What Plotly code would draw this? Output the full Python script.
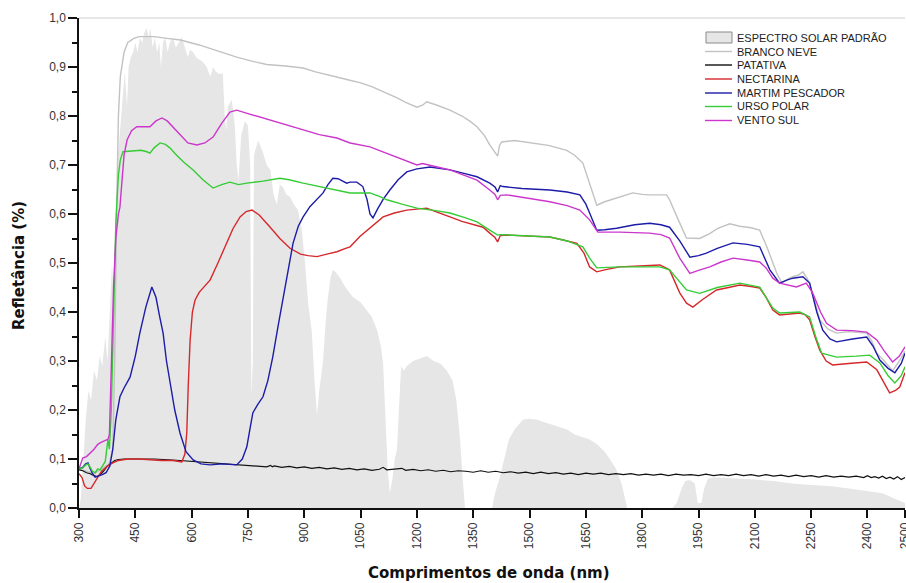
import plotly.graph_objects as go

# ---------------- DATA ----------------
solar_wl = [300, 305, 310, 318, 325, 332, 340, 348, 355, 362, 370, 376, 382, 388, 393, 398, 404, 410, 416, 422,
            428, 432, 438, 444, 450, 456, 462, 468, 474, 480, 486, 490, 496, 502, 508, 514, 518, 524, 530, 536,
            542, 550, 558, 566, 574, 582, 590, 596, 604, 612, 622, 630, 640, 650, 657, 665, 675, 683, 688, 692,
            697, 707, 715, 720, 725, 732, 742, 750, 756, 759, 763, 766, 777, 788, 800, 810, 818, 827, 835, 843,
            852, 862, 872, 883, 893, 902, 910, 920, 928, 934, 940, 950, 957, 963, 970, 976, 985, 995, 1010, 1030,
            1050, 1067, 1080, 1094, 1104, 1110, 1116, 1122, 1128, 1135, 1141, 1147, 1152, 1158, 1165, 1173, 1190,
            1210, 1226, 1245, 1262, 1280, 1295, 1305, 1315, 1322, 1328, 1400, 1408, 1420, 1432, 1445, 1460, 1470,
            1482, 1500, 1520, 1540, 1560, 1580, 1600, 1620, 1640, 1660, 1680, 1700, 1714, 1730, 1745, 1760, 1880,
            1892, 1905, 1915, 1927, 1940, 1948, 1958, 1965, 1975, 1990, 2020, 2060, 2100, 2150, 2200, 2250, 2300,
            2350, 2400, 2440, 2470, 2500]
solar_val = [0.0, 0.02, 0.08, 0.18, 0.24, 0.22, 0.28, 0.26, 0.31, 0.29, 0.35, 0.30, 0.40, 0.50, 0.42, 0.62, 0.72,
             0.78, 0.84, 0.89, 0.82, 0.90, 0.92, 0.93, 0.95, 0.93, 0.96, 0.95, 0.97, 0.98, 0.96, 0.98, 0.94, 0.96,
             0.93, 0.95, 0.90, 0.95, 0.96, 0.93, 0.95, 0.96, 0.94, 0.95, 0.96, 0.94, 0.92, 0.935, 0.93, 0.92, 0.914,
             0.91, 0.90, 0.88, 0.90, 0.89, 0.885, 0.887, 0.80, 0.77, 0.82, 0.833, 0.78, 0.70, 0.67, 0.76, 0.79, 0.78,
             0.70, 0.23, 0.30, 0.72, 0.75, 0.73, 0.70, 0.69, 0.64, 0.62, 0.66, 0.655, 0.64, 0.635, 0.62, 0.608, 0.57,
             0.50, 0.42, 0.36, 0.25, 0.19, 0.24, 0.30, 0.38, 0.43, 0.47, 0.486, 0.48, 0.47, 0.45, 0.43, 0.42, 0.404,
             0.39, 0.363, 0.33, 0.295, 0.20, 0.08, 0.03, 0.06, 0.10, 0.12, 0.20, 0.29, 0.28, 0.29, 0.30, 0.305, 0.31,
             0.30, 0.295, 0.28, 0.26, 0.22, 0.14, 0.06, 0.0, 0.0, 0.03, 0.06, 0.10, 0.14, 0.16, 0.17, 0.18, 0.182,
             0.18, 0.175, 0.17, 0.165, 0.16, 0.15, 0.145, 0.14, 0.13, 0.115, 0.10, 0.08, 0.05, 0.0, 0.0, 0.01, 0.04,
             0.055, 0.057, 0.05, 0.01, 0.01, 0.04, 0.06, 0.063, 0.062, 0.06, 0.058, 0.055, 0.05, 0.047, 0.045, 0.04,
             0.035, 0.03, 0.02, 0.01]

branco_wl = [300, 320, 340, 360, 380, 390, 395, 400, 405, 410, 420, 430, 445, 460, 500, 540, 570, 620, 660, 720,
             760, 800, 850, 880, 897, 930, 960, 1000, 1021, 1048, 1080, 1110, 1130, 1147, 1170, 1200, 1215, 1226,
             1250, 1270, 1288, 1320, 1340, 1360, 1380, 1394, 1405, 1415, 1420, 1426, 1460, 1509, 1550, 1599, 1620,
             1642, 1660, 1679, 1700, 1732, 1775, 1800, 1820, 1865, 1873, 1895, 1918, 1953, 1980, 2000, 2033, 2060,
             2090, 2113, 2132, 2158, 2172, 2190, 2201, 2215, 2228, 2238, 2246, 2260, 2273, 2295, 2318, 2350, 2398,
             2412, 2425, 2445, 2467, 2485, 2500]
branco_val = [0.08, 0.075, 0.07, 0.08, 0.09, 0.12, 0.3, 0.6, 0.8, 0.88, 0.93, 0.95, 0.958, 0.962, 0.962, 0.958,
              0.955, 0.945, 0.935, 0.92, 0.912, 0.905, 0.902, 0.9, 0.898, 0.89, 0.885, 0.877, 0.873, 0.868, 0.86,
              0.85, 0.843, 0.837, 0.828, 0.818, 0.822, 0.829, 0.823, 0.818, 0.812, 0.8, 0.79, 0.778, 0.76, 0.741,
              0.73, 0.718, 0.74, 0.747, 0.75, 0.745, 0.74, 0.73, 0.72, 0.704, 0.66, 0.618, 0.625, 0.633, 0.643, 0.64,
              0.639, 0.639, 0.629, 0.59, 0.551, 0.55, 0.56, 0.57, 0.58, 0.575, 0.572, 0.567, 0.533, 0.48, 0.459,
              0.468, 0.472, 0.475, 0.482, 0.47, 0.459, 0.42, 0.384, 0.365, 0.357, 0.36, 0.357, 0.34, 0.316, 0.3, 0.28,
              0.3, 0.32]

patativa_wl = [300, 310, 320, 330, 340, 348, 356, 365, 375, 385, 395, 405, 420, 450, 480, 500, 550, 600, 650, 700,
               750, 780, 800, 810, 815, 820, 840, 860, 880, 900, 920, 940, 960, 980, 1000, 1020, 1040, 1060, 1080,
               1100, 1110, 1120, 1140, 1160, 1170, 1190, 1210, 1230, 1250, 1270, 1290, 1310, 1330, 1350, 1370, 1390,
               1410, 1430, 1450, 1470, 1490, 1510, 1530, 1550, 1570, 1590, 1610, 1630, 1650, 1670, 1690, 1710, 1730,
               1750, 1770, 1790, 1810, 1830, 1850, 1870, 1890, 1910, 1930, 1950, 1970, 1990, 2010, 2030, 2050, 2070,
               2090, 2110, 2130, 2150, 2170, 2190, 2210, 2230, 2250, 2270, 2290, 2310, 2330, 2350, 2370, 2390, 2400,
               2410, 2420, 2430, 2440, 2450, 2460, 2470, 2480, 2490, 2500]
patativa_val = [0.078, 0.076, 0.072, 0.07, 0.066, 0.064, 0.068, 0.075, 0.085, 0.092, 0.097, 0.099, 0.1, 0.1, 0.1,
                0.1, 0.098, 0.095, 0.092, 0.089, 0.086, 0.085, 0.084, 0.087, 0.084, 0.086, 0.083, 0.085, 0.082,
                0.084, 0.081, 0.083, 0.08, 0.082, 0.079, 0.081, 0.078, 0.08, 0.077, 0.079, 0.083, 0.078, 0.079,
                0.081, 0.077, 0.079, 0.076, 0.078, 0.075, 0.077, 0.074, 0.076, 0.075, 0.073, 0.076, 0.073, 0.075,
                0.072, 0.074, 0.071, 0.073, 0.07, 0.073, 0.07, 0.072, 0.069, 0.071, 0.068, 0.071, 0.069, 0.071,
                0.068, 0.07, 0.068, 0.07, 0.067, 0.069, 0.067, 0.069, 0.066, 0.069, 0.067, 0.068, 0.066, 0.069,
                0.066, 0.068, 0.066, 0.069, 0.066, 0.068, 0.065, 0.068, 0.065, 0.067, 0.064, 0.067, 0.064, 0.066,
                0.063, 0.066, 0.063, 0.065, 0.063, 0.065, 0.062, 0.066, 0.062, 0.064, 0.061, 0.065, 0.06, 0.063,
                0.059, 0.064, 0.058, 0.062]

nectarina_wl = [300, 308, 315, 322, 332, 340, 350, 360, 375, 390, 405, 430, 460, 490, 520, 550, 574, 582, 587, 591,
                596, 602, 609, 620, 635, 649, 670, 694, 710, 729, 745, 761, 780, 808, 835, 862, 890, 910, 934, 960,
                987, 1010, 1022, 1048, 1075, 1095, 1110, 1140, 1173, 1200, 1226, 1250, 1270, 1288, 1320, 1350, 1376,
                1394, 1408, 1415, 1422, 1440, 1480, 1520, 1554, 1590, 1626, 1645, 1660, 1679, 1700, 1740, 1800, 1847,
                1873, 1900, 1918, 1935, 1960, 1998, 2030, 2060, 2090, 2113, 2130, 2148, 2166, 2190, 2220, 2235, 2246,
                2260, 2273, 2290, 2307, 2350, 2398, 2425, 2445, 2459, 2475, 2486, 2500]
nectarina_val = [0.07, 0.062, 0.045, 0.04, 0.04, 0.05, 0.065, 0.075, 0.085, 0.092, 0.097, 0.1, 0.1, 0.098, 0.097,
                 0.097, 0.094, 0.11, 0.153, 0.25, 0.343, 0.4, 0.424, 0.44, 0.452, 0.465, 0.5, 0.54, 0.57, 0.594, 0.605,
                 0.608, 0.598, 0.574, 0.55, 0.53, 0.518, 0.515, 0.513, 0.518, 0.523, 0.53, 0.533, 0.554, 0.571, 0.585,
                 0.594, 0.602, 0.608, 0.61, 0.612, 0.605, 0.6, 0.594, 0.585, 0.578, 0.573, 0.561, 0.552, 0.543, 0.556,
                 0.557, 0.556, 0.555, 0.553, 0.547, 0.54, 0.52, 0.492, 0.482, 0.486, 0.492, 0.494, 0.496, 0.486, 0.439,
                 0.418, 0.41, 0.425, 0.445, 0.45, 0.455, 0.452, 0.449, 0.43, 0.404, 0.394, 0.396, 0.398, 0.394, 0.384,
                 0.35, 0.322, 0.3, 0.292, 0.295, 0.298, 0.282, 0.255, 0.235, 0.24, 0.247, 0.276]

martim_wl = [300, 310, 318, 324, 330, 336, 343, 352, 362, 372, 382, 390, 398, 409, 420, 436, 450, 462, 478, 494, 505,
             515, 524, 533, 542, 555, 569, 585, 604, 625, 649, 670, 683, 700, 720, 735, 747, 755, 763, 775, 790, 803,
             816, 830, 843, 857, 870, 884, 897, 915, 934, 950, 963, 976, 990, 1000, 1013, 1022, 1040, 1056, 1067,
             1075, 1083, 1095, 1110, 1128, 1150, 1173, 1200, 1235, 1260, 1288, 1320, 1360, 1394, 1408, 1415, 1422,
             1429, 1480, 1554, 1600, 1634, 1650, 1660, 1679, 1700, 1732, 1780, 1820, 1850, 1873, 1900, 1927, 1950,
             1971, 2000, 2042, 2080, 2113, 2140, 2166, 2185, 2201, 2228, 2246, 2265, 2281, 2300, 2318, 2360, 2398,
             2415, 2433, 2455, 2473, 2490, 2500]
martim_val = [0.08, 0.083, 0.09, 0.092, 0.08, 0.07, 0.063, 0.065, 0.068, 0.072, 0.085, 0.12, 0.18, 0.227, 0.245,
              0.267, 0.31, 0.357, 0.41, 0.451, 0.43, 0.39, 0.357, 0.3, 0.255, 0.2, 0.153, 0.115, 0.098, 0.09, 0.088,
              0.089, 0.09, 0.089, 0.088, 0.1, 0.125, 0.16, 0.194, 0.21, 0.227, 0.26, 0.308, 0.37, 0.424, 0.49, 0.54,
              0.575, 0.594, 0.615, 0.63, 0.643, 0.66, 0.673, 0.672, 0.668, 0.663, 0.665, 0.665, 0.656, 0.63, 0.6,
              0.592, 0.61, 0.63, 0.649, 0.67, 0.686, 0.692, 0.696, 0.693, 0.69, 0.684, 0.676, 0.663, 0.655, 0.645,
              0.658, 0.656, 0.652, 0.649, 0.645, 0.639, 0.62, 0.602, 0.567, 0.568, 0.571, 0.578, 0.581, 0.578, 0.573,
              0.545, 0.512, 0.515, 0.52, 0.53, 0.541, 0.538, 0.533, 0.486, 0.459, 0.465, 0.469, 0.472, 0.459, 0.4,
              0.363, 0.345, 0.339, 0.345, 0.349, 0.33, 0.302, 0.285, 0.276, 0.295, 0.316]

urso_wl = [300, 310, 318, 324, 330, 336, 343, 350, 356, 362, 370, 377, 381, 386, 392, 398, 405, 410, 417, 440, 465,
           481, 489, 500, 516, 530, 542, 560, 580, 604, 630, 657, 680, 702, 725, 747, 790, 835, 860, 897, 940, 987,
           1022, 1056, 1075, 1100, 1120, 1160, 1200, 1250, 1288, 1330, 1360, 1394, 1408, 1415, 1422, 1480, 1554,
           1600, 1642, 1660, 1679, 1740, 1820, 1847, 1873, 1900, 1918, 1953, 2000, 2060, 2113, 2130, 2148, 2166,
           2220, 2246, 2262, 2278, 2318, 2370, 2406, 2433, 2455, 2473, 2490, 2500]
urso_val = [0.08, 0.082, 0.088, 0.09, 0.083, 0.075, 0.072, 0.08, 0.078, 0.085, 0.095, 0.139, 0.12, 0.2, 0.4, 0.58,
            0.68, 0.71, 0.727, 0.728, 0.73, 0.727, 0.724, 0.735, 0.745, 0.742, 0.735, 0.72, 0.705, 0.69, 0.67, 0.653,
            0.66, 0.665, 0.66, 0.663, 0.667, 0.673, 0.67, 0.663, 0.656, 0.649, 0.643, 0.643, 0.643, 0.636, 0.629,
            0.62, 0.612, 0.607, 0.602, 0.592, 0.584, 0.567, 0.56, 0.557, 0.558, 0.556, 0.553, 0.545, 0.533, 0.51,
            0.49, 0.492, 0.492, 0.492, 0.486, 0.46, 0.445, 0.438, 0.45, 0.459, 0.451, 0.43, 0.408, 0.398, 0.4, 0.39,
            0.35, 0.316, 0.308, 0.31, 0.312, 0.296, 0.27, 0.255, 0.27, 0.288]

vento_wl = [300, 305, 310, 320, 330, 340, 350, 356, 370, 377, 381, 386, 392, 398, 405, 409, 415, 420, 428, 440, 454,
            470, 489, 505, 521, 535, 550, 570, 590, 614, 635, 657, 680, 702, 720, 750, 780, 808, 850, 897, 940, 987,
            1022, 1075, 1110, 1150, 1200, 1215, 1235, 1260, 1288, 1320, 1360, 1394, 1408, 1415, 1422, 1440, 1500,
            1554, 1600, 1634, 1660, 1682, 1740, 1820, 1850, 1873, 1900, 1927, 1950, 1980, 2010, 2042, 2080, 2113,
            2130, 2148, 2166, 2190, 2211, 2237, 2254, 2275, 2291, 2318, 2360, 2398, 2425, 2445, 2467, 2485, 2500]
vento_val = [0.08, 0.09, 0.102, 0.105, 0.112, 0.12, 0.13, 0.133, 0.138, 0.14, 0.15, 0.3, 0.45, 0.55, 0.6, 0.614,
             0.68, 0.72, 0.751, 0.77, 0.778, 0.778, 0.778, 0.79, 0.796, 0.79, 0.778, 0.76, 0.745, 0.741, 0.745,
             0.757, 0.785, 0.808, 0.812, 0.805, 0.798, 0.792, 0.782, 0.771, 0.762, 0.755, 0.745, 0.737, 0.727, 0.715,
             0.7, 0.703, 0.7, 0.695, 0.69, 0.68, 0.669, 0.649, 0.64, 0.629, 0.638, 0.639, 0.632, 0.625, 0.617, 0.608,
             0.588, 0.563, 0.563, 0.561, 0.558, 0.551, 0.51, 0.479, 0.485, 0.492, 0.502, 0.51, 0.506, 0.502, 0.49,
             0.469, 0.459, 0.455, 0.451, 0.459, 0.439, 0.4, 0.377, 0.363, 0.362, 0.359, 0.343, 0.32, 0.298, 0.31,
             0.329]

x_tickvals = [300, 450, 600, 750, 900, 1050, 1200, 1350, 1500, 1650, 1800, 1950, 2100, 2250, 2400, 2500]
x_ticktext = [str(v) for v in x_tickvals]

legend_names = ["ESPECTRO SOLAR PADRÃO", "BRANCO NEVE", "PATATIVA", "NECTARINA",
                "MARTIM PESCADOR", "URSO POLAR", "VENTO SUL"]

# ---------------- STYLE ----------------
W, H = 906, 583
L, R, T, B = 79, 1, 18, 75
PW, PH = W - L - R, H - T - B
SOLAR_FILL = "#e6e6e6"
colors = ["#c2c2c2", "#111111", "#d6282b", "#1c1ca8", "#35cc35", "#cc36cc"]


def px(x):
    return (x - L) / PW


def py(y):
    return (H - B - y) / PH


fig = go.Figure()
fig.add_trace(go.Scatter(x=solar_wl, y=solar_val, mode="lines", fill="tozeroy",
                         fillcolor=SOLAR_FILL, line=dict(width=0, color=SOLAR_FILL),
                         name=legend_names[0], showlegend=False, hoverinfo="skip"))

series = [(branco_wl, branco_val), (patativa_wl, patativa_val), (nectarina_wl, nectarina_val),
          (martim_wl, martim_val), (urso_wl, urso_val), (vento_wl, vento_val)]
for i, (wl, val) in enumerate(series):
    fig.add_trace(go.Scatter(x=wl, y=val, mode="lines", name=legend_names[i + 1],
                             line=dict(color=colors[i], width=1.4 if i != 1 else 1.2),
                             showlegend=False))

shapes = []
annotations = []
# top frame line (light gray)
shapes.append(dict(type="line", xref="paper", yref="paper", x0=0, x1=1, y0=1, y1=1,
                   line=dict(color="#cfcfcf", width=1)))

# manual legend
leg_y = [37.5, 51.5, 65, 79, 93, 106.5, 120.5]
sym_x0, sym_x1, text_x = 706, 732, 735
for k, name in enumerate(legend_names):
    yy = leg_y[k]
    if k == 0:
        shapes.append(dict(type="rect", xref="paper", yref="paper",
                           x0=px(sym_x0), x1=px(sym_x1), y0=py(yy + 5.5), y1=py(yy - 5.5),
                           fillcolor=SOLAR_FILL, line=dict(color="#8a8a8a", width=1)))
    else:
        shapes.append(dict(type="line", xref="paper", yref="paper",
                           x0=px(sym_x0 - 1), x1=px(sym_x1), y0=py(yy), y1=py(yy),
                           line=dict(color=colors[k - 1], width=1.4)))
    annotations.append(dict(text=name, xref="paper", yref="paper", x=px(text_x), y=py(yy),
                            xanchor="left", yanchor="middle", showarrow=False,
                            font=dict(family="Liberation Sans, Arial, sans-serif", size=11, color="#222")))

# axis titles
annotations.append(dict(text="<b>Comprimentos de onda (nm)</b>", xref="paper", yref="paper",
                        x=px(489), y=py(573), xanchor="center", yanchor="middle", showarrow=False,
                        font=dict(family="DejaVu Sans, sans-serif", size=15, color="#111")))
annotations.append(dict(text="<b>Refletância (%)</b>", xref="paper", yref="paper",
                        x=px(19), y=py(266), xanchor="center", yanchor="middle", showarrow=False,
                        textangle=-90,
                        font=dict(family="DejaVu Sans, sans-serif", size=15, color="#111")))

fig.update_layout(
    width=W, height=H,
    margin=dict(l=L, r=R, t=T, b=B, autoexpand=False),
    paper_bgcolor="white", plot_bgcolor="white",
    separators=",.",
    showlegend=False,
    shapes=shapes, annotations=annotations,
    font=dict(family="Liberation Sans, Arial, sans-serif", size=12, color="#333"),
    xaxis=dict(range=[300, 2500], tickmode="array", tickvals=x_tickvals, ticktext=x_ticktext,
               tickangle=-90, ticks="outside", ticklen=8, tickwidth=1.5, tickcolor="#111",
               showline=True, linecolor="#111", linewidth=1.5, showgrid=False, zeroline=False,
               ticklabeloverflow="allow",
               tickfont=dict(size=12, color="#333"), automargin=False),
    yaxis=dict(range=[0, 1.0], tick0=0, dtick=0.1, tickformat=".1f",
               ticks="outside", ticklen=9, tickwidth=1.5, tickcolor="#111",
               minor=dict(ticks="outside", dtick=0.05, ticklen=5, tickwidth=1.5, tickcolor="#111"),
               showline=True, linecolor="#111", linewidth=1.5, showgrid=False, zeroline=False,
               tickfont=dict(size=12, color="#333"), automargin=False),
)

fig.write_html("out.html")
